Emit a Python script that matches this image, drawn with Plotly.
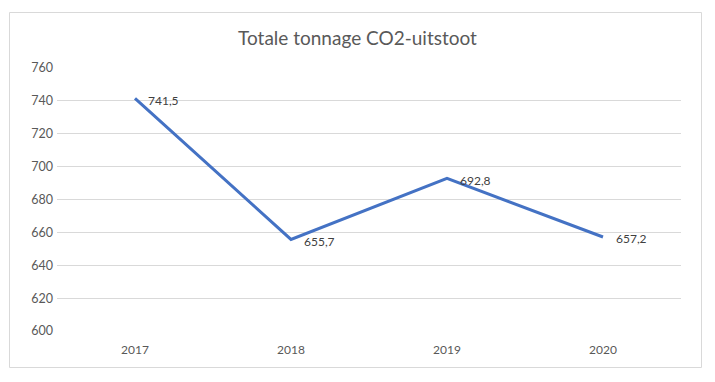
import plotly.graph_objects as go

years = ["2017", "2018", "2019", "2020"]
tonnage = [741.5, 655.7, 692.8, 657.2]
y_ticks = [600, 620, 640, 660, 680, 700, 720, 740, 760]

labels = [f"{v:.1f}".replace(".", ",") for v in tonnage]

# page body has an 8px margin; figure coordinates = screenshot coordinates - 8
OFF = 8
W, H = 715 - 2 * OFF, 382 - 2 * OFF
L, T = 57 - OFF, 68 - OFF
R = W - (681 - OFF)
B = H - (331 - OFF)
pw, ph = W - L - R, H - T - B

def px_x(x):
    return (x - OFF - L) / pw

def px_y(y):
    return (H - B - (y - OFF)) / ph

FONT = "Lato, Open Sans, sans-serif"

fig = go.Figure()
fig.add_trace(go.Scatter(
    x=years, y=tonnage, mode="lines",
    line=dict(color="#4472C4", width=3),
    hoverinfo="skip",
))

for i, (v, lab) in enumerate(zip(tonnage, labels)):
    fig.add_annotation(x=i, y=v, text=lab, showarrow=False,
                       xanchor="left", yanchor="middle", xshift=11, yshift=-2,
                       font=dict(family=FONT, size=12, color="#404040"))

fig.update_layout(
    width=W, height=H,
    margin=dict(l=L, r=R, t=T, b=B),
    paper_bgcolor="white", plot_bgcolor="white",
    showlegend=False,
    title=dict(text="Totale tonnage CO2-uitstoot", x=0.5, xanchor="center",
               y=1 - (38 - OFF) / H, yanchor="middle",
               font=dict(family=FONT, size=19, color="#595959")),
    font=dict(family=FONT, size=12, color="#595959"),
    xaxis=dict(type="category", showgrid=False, showline=False, zeroline=False,
               ticks="", ticklabelstandoff=10,
               tickfont=dict(size=12, color="#595959"),
               range=[-0.5, 3.5]),
    yaxis=dict(range=[600, 760], tickvals=y_ticks, showgrid=True,
               gridcolor="#D9D9D9", gridwidth=1, zeroline=False, showline=False,
               ticks="", ticklabelstandoff=3,
               tickfont=dict(size=12.5, color="#595959")),
    shapes=[dict(type="rect", xref="paper", yref="paper",
                 x0=px_x(9.5), x1=px_x(701.5), y0=px_y(367.5), y1=px_y(12.5),
                 line=dict(color="#D9D9D9", width=1), layer="below")],
)

fig.write_html("out.html")
